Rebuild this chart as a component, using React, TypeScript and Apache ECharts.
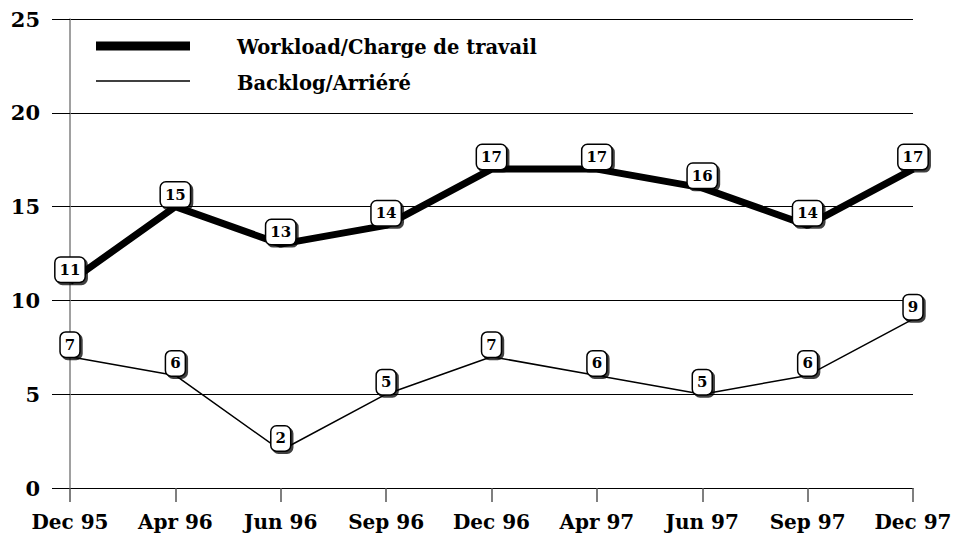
import React, { useEffect, useRef } from "react";
import * as echarts from "echarts";

const categories = ["Dec 95", "Apr 96", "Jun 96", "Sep 96", "Dec 96", "Apr 97", "Jun 97", "Sep 97", "Dec 97"];
const workload = [11, 15, 13, 14, 17, 17, 16, 14, 17];
const backlog = [7, 6, 2, 5, 7, 6, 5, 6, 9];
const legendNames = ["Workload/Charge de travail", "Backlog/Arriéré"];

const FONT = "DejaVu Serif";

const labelStyle = {
  show: true,
  position: "inside" as const,
  offset: [0, -12],
  fontFamily: FONT,
  fontWeight: "bold" as const,
  fontSize: 15,
  color: "#000",
  backgroundColor: "#fff",
  borderColor: "#000",
  borderWidth: 1.5,
  borderRadius: 5,
  padding: [5, 4, 4, 4],
  shadowColor: "rgba(0,0,0,0.75)",
  shadowBlur: 1,
  shadowOffsetX: 2,
  shadowOffsetY: 2,
};

export default function App() {
  const ref = useRef<HTMLDivElement>(null);
  useEffect(() => {
    const chart = echarts.init(ref.current!, null, { renderer: "svg" });
    chart.setOption({
      animation: false,
      backgroundColor: "#fff",
      grid: { left: 70, right: 42, top: 19, bottom: 50 },
      xAxis: {
        type: "category",
        data: categories,
        boundaryGap: false,
        axisLine: { show: true, lineStyle: { color: "#000", width: 1 } },
        axisTick: { show: true, length: 14, alignWithLabel: true, lineStyle: { color: "#555", width: 1.5 } },
        axisLabel: { fontFamily: FONT, fontWeight: "bold", fontSize: 20, color: "#000", margin: 24 },
        splitLine: { show: false },
      },
      yAxis: {
        type: "value",
        min: 0,
        max: 25,
        interval: 5,
        axisLine: { show: true, lineStyle: { color: "#808080", width: 1.5 } },
        axisTick: { show: true, length: 18, lineStyle: { color: "#000", width: 1 } },
        axisLabel: { fontFamily: FONT, fontWeight: "bold", fontSize: 21, color: "#000", margin: 30 },
        splitLine: { show: true, lineStyle: { color: "#000", width: 1 } },
      },
      graphic: [
        { type: "line", shape: { x1: 96, y1: 46, x2: 190, y2: 46 }, style: { stroke: "#000", lineWidth: 9 } },
        { type: "line", shape: { x1: 96, y1: 81, x2: 190, y2: 81 }, style: { stroke: "#000", lineWidth: 1.5 } },
        { type: "text", x: 237, y: 47, style: { text: legendNames[0], fontFamily: FONT, fontWeight: "bold", fontSize: 19.5, fill: "#000", verticalAlign: "middle" } },
        { type: "text", x: 237, y: 83, style: { text: legendNames[1], fontFamily: FONT, fontWeight: "bold", fontSize: 19.5, fill: "#000", verticalAlign: "middle" } },
      ],
      series: [
        {
          name: legendNames[0],
          type: "line",
          data: workload,
          symbol: "circle",
          symbolSize: 1,
          showSymbol: true,
          itemStyle: { color: "#000" },
          lineStyle: { color: "#000", width: 7 },
          label: labelStyle,
          z: 3,
        },
        {
          name: legendNames[1],
          type: "line",
          data: backlog,
          symbol: "circle",
          symbolSize: 1,
          showSymbol: true,
          itemStyle: { color: "#000" },
          lineStyle: { color: "#000", width: 1.5 },
          label: labelStyle,
          z: 3,
        },
      ],
    });
    return () => chart.dispose();
  }, []);
  return <div ref={ref} style={{ width: 955, height: 538, position: "absolute", left: 0, top: 0 }} />;
}
